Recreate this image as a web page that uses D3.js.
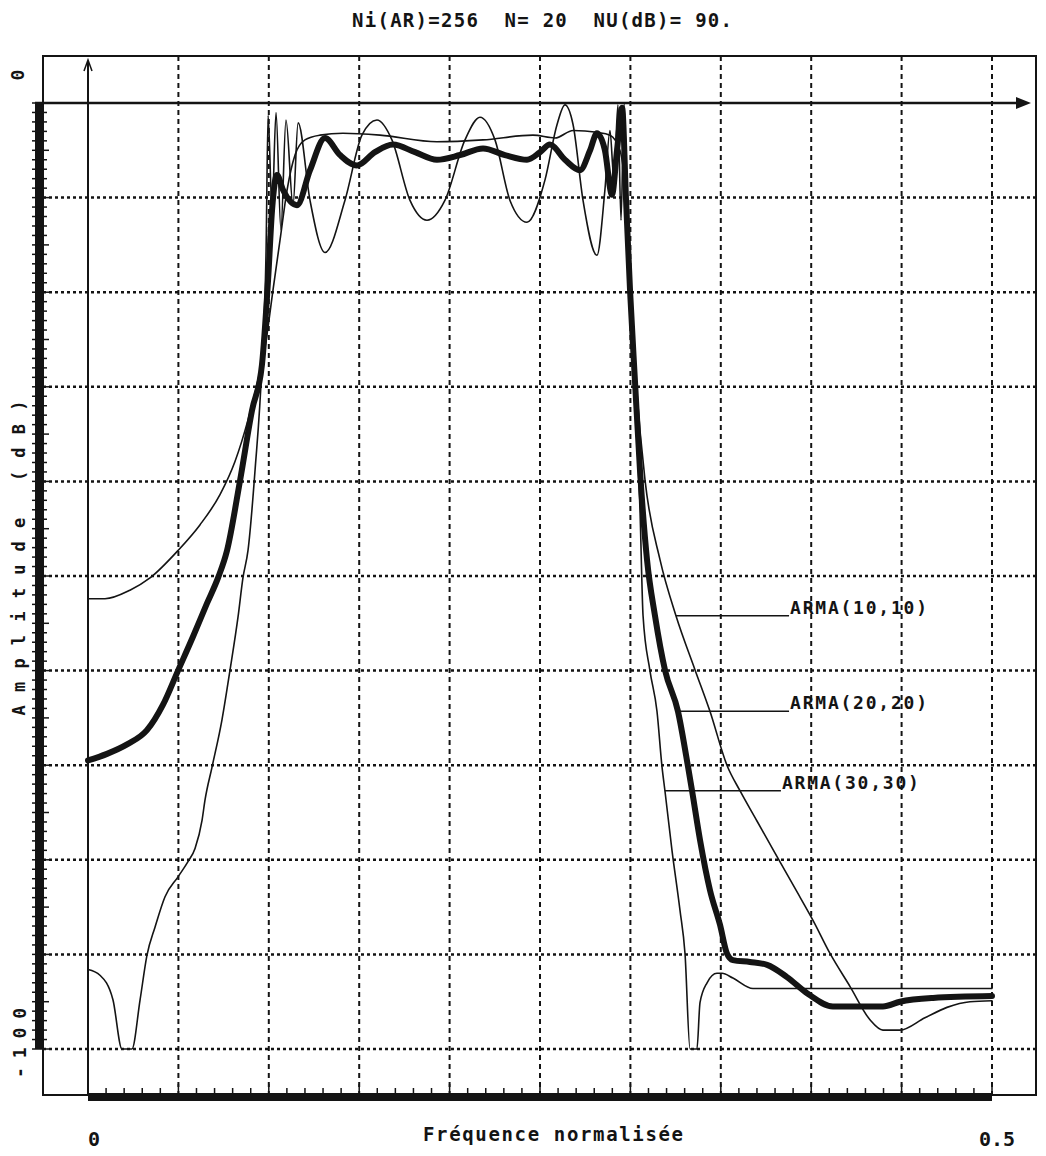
<!DOCTYPE html>
<html>
<head>
<meta charset="utf-8">
<script src="https://cdn.jsdelivr.net/npm/d3@7"></script>
<style>
  body { margin: 0; background: #fff; }
  text { font-family: "DejaVu Sans Mono", monospace; font-weight: bold; fill: #141414; white-space: pre; }
</style>
</head>
<body>
<svg id="chart" width="1046" height="1156"></svg>
<script>
// ---- data (frequency, dB) ----
var title = "Ni(AR)=256  N= 20  NU(dB)= 90.";
var xTickLabels = ["0", "0.5"];
var yTickLabels = ["0", "-100"];
var seriesNames = ["ARMA(10,10)", "ARMA(20,20)", "ARMA(30,30)"];

// ARMA(10,10), thin
var f10 = [0, 0.0094, 0.0232, 0.0343, 0.0498, 0.0619, 0.073, 0.0813, 0.0885, 0.094, 0.0985, 0.1023, 0.1062, 0.1101,
  0.1145, 0.12, 0.1283, 0.141, 0.1615, 0.193, 0.2185, 0.2461, 0.2583, 0.2683, 0.2815, 0.2887, 0.2942, 0.2976, 0.2998,
  0.3031, 0.3081, 0.3164, 0.3252, 0.3357, 0.344, 0.3534, 0.3606, 0.37, 0.38, 0.391, 0.401, 0.4104, 0.4215, 0.4325, 0.4397,
  0.4491, 0.4629, 0.4751, 0.4878, 0.5];
var db10 = [-52.4, -52.4, -51.5, -50.2, -47.3, -44.6, -41.4, -37.9, -33.5, -29.3, -25.1, -19.8, -14.5, -9.2,
  -5.5, -3.9, -3.4, -3.2, -3.4, -4.1, -3.9, -3.4, -3.7, -2.9, -3.1, -3.4, -5.0, -10.3, -18.7,
  -29.3, -39.9, -48.3, -54.2, -59.9, -64.3, -70.0, -72.7, -75.9, -79.3, -83.0, -86.4, -89.9, -93.4, -96.9, -98.0,
  -98.0, -96.7, -95.6, -95.0, -94.9];

// ARMA(20,20), thick
var f20 = [0, 0.0105, 0.0216, 0.0326, 0.0415, 0.0498, 0.0581, 0.0658, 0.0719, 0.0769, 0.0841, 0.0907, 0.0962, 0.0996,
  0.1018, 0.1045, 0.1079, 0.1156, 0.1228, 0.1311, 0.1394, 0.1488, 0.1587, 0.1687, 0.1809, 0.193, 0.2058, 0.2185,
  0.2306, 0.2428, 0.25, 0.2555, 0.2638, 0.2721, 0.2777, 0.2815, 0.2859, 0.2898, 0.2926, 0.2954, 0.2976, 0.2998,
  0.3025, 0.3053, 0.3092, 0.3136, 0.3192, 0.3263, 0.3319, 0.3341, 0.3385, 0.344, 0.3496, 0.3534, 0.3567, 0.3661,
  0.3756, 0.3866, 0.3977, 0.412, 0.4397, 0.4491, 0.4674, 0.5];
var db20 = [-69.5, -68.8, -67.8, -66.3, -63.6, -60.0, -56.4, -52.9, -50.2, -47.3, -39.9, -32.5, -27.7, -18.7,
  -11.3, -7.6, -9.2, -10.8, -7.1, -3.7, -5.5, -6.6, -5.2, -4.4, -5.2, -6.0, -5.5, -4.8,
  -5.5, -6.0, -5.2, -4.4, -6.0, -7.1, -5.0, -3.2, -5.0, -9.7, -5.0, -0.5, -10.3, -19.8,
  -29.3, -38.8, -48.3, -54.2, -60.0, -64.3, -70.2, -72.7, -77.9, -83.2, -86.9, -89.9, -90.6, -90.8,
  -91.1, -92.4, -94.1, -95.5, -95.5, -95.0, -94.6, -94.4];

// ARMA(30,30), thin
var f30 = [0, 0.0066, 0.0138, 0.0188, 0.0243, 0.0288, 0.0326, 0.0371, 0.0426, 0.0498, 0.0553, 0.0592, 0.0631, 0.0647,
  0.0686, 0.0741, 0.0785, 0.083, 0.0857, 0.0885, 0.0924, 0.0962, 0.0985, 0.0996, 0.1018, 0.104, 0.1067, 0.1095,
  0.1134, 0.1162, 0.1228, 0.1311, 0.1421, 0.1515, 0.1598, 0.1681, 0.1781, 0.1875, 0.1974, 0.2085, 0.2168, 0.2251,
  0.2334, 0.2428, 0.2528, 0.2594, 0.2638, 0.2683, 0.2738, 0.2815, 0.2859, 0.2887, 0.2909, 0.2931, 0.2948, 0.2965,
  0.2987, 0.3009, 0.3031, 0.3053, 0.307, 0.3108, 0.3147, 0.3175, 0.3191, 0.323, 0.3274, 0.3302, 0.333, 0.3368,
  0.3385, 0.3424, 0.3479, 0.3507, 0.3567, 0.3678, 0.5];
var db30 = [-91.6, -92.2, -94.8, -100, -100, -94.8, -90.1, -87.1, -83.9, -81.8, -80.2, -78.8, -75.8, -73.7,
  -70.2, -65.2, -60.0, -54.3, -50.2, -47.3, -38.8, -27.7, -15.5, -1.3, -11.3, -1.0, -13.4, -1.8,
  -10.8, -2.1, -10.3, -15.8, -10.3, -3.4, -1.8, -3.9, -10.3, -12.4, -10.3, -3.9, -1.5, -3.9,
  -10.3, -12.6, -8.1, -2.3, -0.2, -2.3, -10.3, -16.1, -9.2, -2.9, -8.1, -0.2, -12.4, -0.1,
  -16.6, -24.0, -33.5, -43.0, -54.2, -60.0, -64.3, -70.2, -72.7, -79.0, -85.3, -89.9, -100, -100,
  -95.1, -93.0, -92.0, -92.0, -92.5, -93.6, -93.6];

// label leader lines: dB level of each line, and frequency where the text starts
var labelLevels = [-54.2, -64.3, -72.7];
var labelTextF = [0.3883, 0.3883, 0.3838];

// ---- layout ----
var svg = d3.select("#chart");
var ink = "#141414";
var frame = {left: 43, top: 56, right: 1036, bottom: 1095};
var x = d3.scaleLinear().domain([0, 0.5]).range([88, 992]);
var y = d3.scaleLinear().domain([0, -100]).range([103, 1049]);

svg.append("rect").attr("width", 1046).attr("height", 1156).attr("fill", "#fff");

// title
svg.append("text")
  .attr("x", 542).attr("y", 27)
  .attr("text-anchor", "middle")
  .attr("font-size", 19)
  .attr("textLength", 380).attr("lengthAdjust", "spacing")
  .text(title);

// frame
svg.append("rect")
  .attr("x", frame.left).attr("y", frame.top)
  .attr("width", frame.right - frame.left).attr("height", frame.bottom - frame.top)
  .attr("fill", "none").attr("stroke", ink).attr("stroke-width", 2);

// vertical dashed grid
svg.selectAll(".vgrid")
  .data(d3.range(1, 11).map(function(i) { return i * 0.05; }))
  .enter().append("line")
    .attr("x1", function(d) { return x(d); })
    .attr("x2", function(d) { return x(d); })
    .attr("y1", frame.top).attr("y2", frame.bottom)
    .attr("stroke", ink).attr("stroke-width", 2)
    .attr("stroke-dasharray", "5,4");

// horizontal dotted grid
svg.selectAll(".hgrid")
  .data(d3.range(1, 11).map(function(i) { return -10 * i; }))
  .enter().append("line")
    .attr("x1", frame.left).attr("x2", frame.right)
    .attr("y1", function(d) { return y(d); })
    .attr("y2", function(d) { return y(d); })
    .attr("stroke", ink).attr("stroke-width", 2.5)
    .attr("stroke-dasharray", "3,3");

// 0 dB line with arrow
svg.append("line")
  .attr("x1", frame.left - 8).attr("x2", 1022)
  .attr("y1", y(0)).attr("y2", y(0))
  .attr("stroke", ink).attr("stroke-width", 2.5);
svg.append("path")
  .attr("d", "M1016," + (y(0) - 6) + " L1031," + y(0) + " L1016," + (y(0) + 6) + " Z")
  .attr("fill", ink);

// y axis line with small arrow
svg.append("line")
  .attr("x1", x(0)).attr("x2", x(0))
  .attr("y1", 62).attr("y2", frame.bottom)
  .attr("stroke", ink).attr("stroke-width", 2);
svg.append("path")
  .attr("d", "M" + (x(0) - 4) + ",71 L" + x(0) + ",60 L" + (x(0) + 4) + ",71")
  .attr("fill", "none").attr("stroke", ink).attr("stroke-width", 1.5);

// left thick scale bar with 1 dB ticks
svg.append("rect")
  .attr("x", 35).attr("y", y(0))
  .attr("width", 9).attr("height", y(-100) - y(0))
  .attr("fill", ink);
svg.selectAll(".ytick")
  .data(d3.range(0, 101))
  .enter().append("line")
    .attr("x1", 32).attr("x2", function(d) { return d % 5 === 0 ? 49 : 47; })
    .attr("y1", function(d) { return y(-d); })
    .attr("y2", function(d) { return y(-d); })
    .attr("stroke", ink).attr("stroke-width", 1.5);

// bottom thick scale bar with 0.01 ticks
svg.append("rect")
  .attr("x", x(0)).attr("y", 1093)
  .attr("width", x(0.5) - x(0)).attr("height", 8)
  .attr("fill", ink);
svg.selectAll(".xtick")
  .data(d3.range(0, 51))
  .enter().append("line")
    .attr("x1", function(d) { return x(d / 100); })
    .attr("x2", function(d) { return x(d / 100); })
    .attr("y1", 1094)
    .attr("y2", function(d) { return d % 5 === 0 ? 1084 : 1088; })
    .attr("stroke", ink).attr("stroke-width", 1.5);

// curves
function pairs(fs, ds) { return fs.map(function(f, i) { return [f, ds[i]]; }); }
var line = d3.line()
  .x(function(d) { return x(d[0]); })
  .y(function(d) { return y(d[1]); })
  .curve(d3.curveMonotoneX);

var series = [
  {name: seriesNames[0], pts: pairs(f10, db10), w: 1.6},
  {name: seriesNames[1], pts: pairs(f20, db20), w: 6},
  {name: seriesNames[2], pts: pairs(f30, db30), w: 1.6}
];

svg.selectAll(".curve")
  .data(series)
  .enter().append("path")
    .attr("d", function(d) { return line(d.pts); })
    .attr("fill", "none")
    .attr("stroke", ink)
    .attr("stroke-width", function(d) { return d.w; })
    .attr("stroke-linejoin", "round")
    .attr("stroke-linecap", "round");

// find where a curve crosses a level on the falling (right) edge
function crossing(pts, level) {
  for (var i = 1; i < pts.length; i++) {
    if (pts[i][0] > 0.29 && pts[i - 1][1] > level && pts[i][1] <= level) {
      var t = (level - pts[i - 1][1]) / (pts[i][1] - pts[i - 1][1]);
      return pts[i - 1][0] + t * (pts[i][0] - pts[i - 1][0]);
    }
  }
  return pts[pts.length - 1][0];
}

series.forEach(function(s, i) {
  var f0 = crossing(s.pts, labelLevels[i]);
  svg.append("line")
    .attr("x1", x(f0)).attr("x2", x(labelTextF[i]) - 1)
    .attr("y1", y(labelLevels[i])).attr("y2", y(labelLevels[i]))
    .attr("stroke", ink).attr("stroke-width", 1.6);
  svg.append("text")
    .attr("x", x(labelTextF[i])).attr("y", y(labelLevels[i]) - 2)
    .attr("font-size", 18)
    .attr("textLength", 137).attr("lengthAdjust", "spacing")
    .text(s.name);
});

// x labels
svg.append("text").attr("x", x(0) + 6).attr("y", 1146)
  .attr("text-anchor", "middle").attr("font-size", 20).text(xTickLabels[0]);
svg.append("text").attr("x", x(0.5) + 5).attr("y", 1146)
  .attr("text-anchor", "middle").attr("font-size", 20).text(xTickLabels[1]);
svg.append("text").attr("x", 553).attr("y", 1141)
  .attr("text-anchor", "middle").attr("font-size", 19)
  .attr("textLength", 260).attr("lengthAdjust", "spacing")
  .text("Fréquence normalisée");

// y labels (rotated)
function vtext(cx, cy, str, size, len) {
  var t = svg.append("text")
    .attr("transform", "translate(" + cx + "," + cy + ") rotate(-90)")
    .attr("text-anchor", "middle")
    .attr("dominant-baseline", "central")
    .attr("font-size", size)
    .text(str);
  if (len) t.attr("textLength", len).attr("lengthAdjust", "spacing");
  return t;
}
vtext(17, 75, yTickLabels[0], 18);
vtext(19, 1043, yTickLabels[1], 18, 70);
vtext(19, 558, "Amplitude (dB)", 17, 315);
</script>
</body>
</html>
